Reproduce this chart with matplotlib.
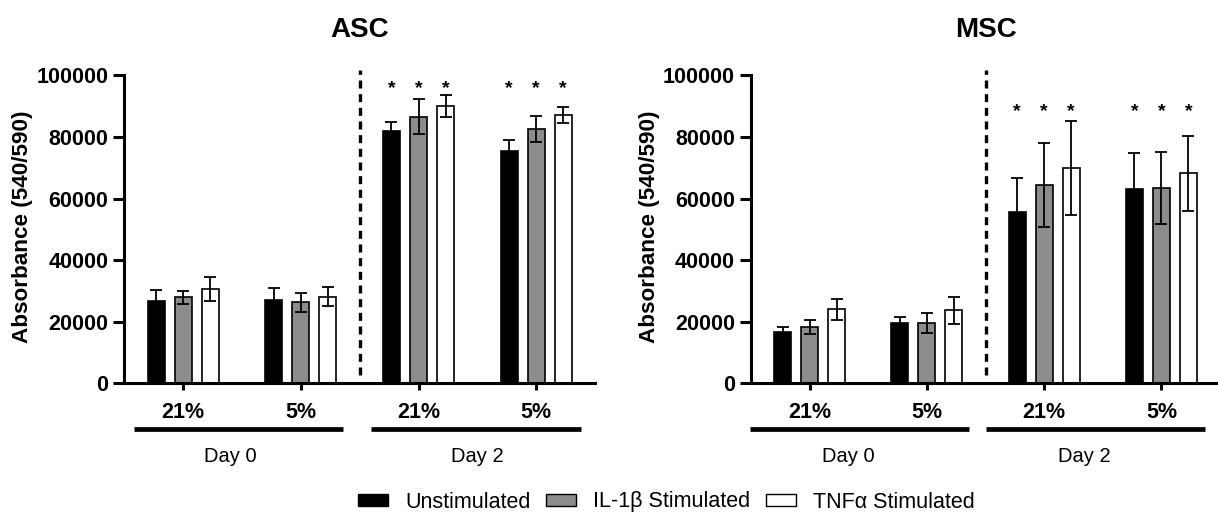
"""Two-panel grouped bar chart: absorbance for ASC and MSC at day 0 / day 2."""

import matplotlib
matplotlib.use("Agg")
import matplotlib.pyplot as plt
import matplotlib.transforms as mtransforms
from matplotlib.patches import Patch
import numpy as np

plt.rcParams["font.family"] = ["Liberation Sans", "DejaVu Sans"]

# groups along the x axis: Day 0 (21%, 5%), Day 2 (21%, 5%)
group_labels = ["21%", "5%", "21%", "5%"]
days = ["Day 0", "Day 2"]
treatments = ["Unstimulated", "IL-1\u03b2 Stimulated", "TNF\u03b1 Stimulated"]

# ASC means / errors per treatment, one value per group
asc_unstim = [26700, 27200, 81900, 75600]
asc_unstim_err = [3500, 3700, 3000, 3600]
asc_il1b = [28000, 26300, 86600, 82600]
asc_il1b_err = [2100, 3200, 5600, 4200]
asc_tnfa = [30800, 28200, 90000, 87200]
asc_tnfa_err = [3900, 3000, 3600, 2600]

# MSC
msc_unstim = [16800, 19500, 55800, 63300]
msc_unstim_err = [1400, 2000, 10900, 11600]
msc_il1b = [18400, 19700, 64500, 63600]
msc_il1b_err = [2300, 3200, 13700, 11700]
msc_tnfa = [24100, 23700, 70000, 68200]
msc_tnfa_err = [3400, 4400, 15200, 12300]

# groups flagged significant (*)
significant = [False, False, True, True]

colors = ["black", "#8c8c8c", "white"]
BAR_W = 0.145
OFFS = [-0.23, 0.0, 0.23]


def panel(ax, title, series, errs, star_y, day_spans, day_x):
	x = np.arange(len(group_labels))
	for vals, err, off, col in zip(series, errs, OFFS, colors):
		ax.bar(x + off, vals, BAR_W, yerr=err, color=col, edgecolor="black",
			linewidth=1.2, capsize=4,
			error_kw=dict(elinewidth=1.3, capthick=1.3, ecolor="black"))
		for xi, sig in zip(x, significant):
			if sig:
				ax.text(xi + off, star_y, "*", ha="center", va="baseline",
					fontsize=14, fontweight="bold")

	ax.plot([1.5, 1.5], [2800, 101800], color="black", lw=2.4,
		ls=(0, (2.4, 1.7)), clip_on=False)

	ax.set_xlim(-0.5, 3.5)
	ax.set_ylim(0, 100000)
	ax.set_yticks(np.arange(0, 100001, 20000))
	ax.set_xticks(x)
	ax.set_xticklabels(group_labels)
	for lab in ax.get_xticklabels() + ax.get_yticklabels():
		lab.set_fontweight("bold")
	ax.tick_params(axis="y", length=8, width=2.2, labelsize=15.5, pad=3.5)
	ax.tick_params(axis="x", length=5, width=2.2, labelsize=15.5, pad=8)
	for s in ["top", "right"]:
		ax.spines[s].set_visible(False)
	for s in ["left", "bottom"]:
		ax.spines[s].set_linewidth(2.2)

	ax.set_title(title, fontsize=20, fontweight="bold", pad=28)
	ax.set_ylabel("Absorbance (540/590)", fontsize=16.2, fontweight="bold")
	ax.yaxis.set_label_coords(-0.195, 0.51)

	trans = mtransforms.blended_transform_factory(ax.transData, ax.transAxes)
	for (x0, x1), dx, day in zip(day_spans, day_x, days):
		ax.plot([x0, x1], [-0.148, -0.148], color="black", lw=3.4,
			transform=trans, clip_on=False, solid_capstyle="butt")
		ax.text(dx, -0.238, day, transform=trans, ha="center", va="center",
			fontsize=14.5)


fig = plt.figure(figsize=(12.18, 5.12), dpi=100)
ax1 = fig.add_axes([0.1021, 0.251, 0.3864, 0.6016])
ax2 = fig.add_axes([0.6166, 0.251, 0.3851, 0.6016])

panel(ax1, "ASC", [asc_unstim, asc_il1b, asc_tnfa],
	[asc_unstim_err, asc_il1b_err, asc_tnfa_err], 94300,
	[(-0.42, 1.36), (1.6, 3.38)], [0.40, 2.50])
panel(ax2, "MSC", [msc_unstim, msc_il1b, msc_tnfa],
	[msc_unstim_err, msc_il1b_err, msc_tnfa_err], 86800,
	[(-0.51, 1.36), (1.5, 3.37)], [0.33, 2.34])

handles = [Patch(facecolor=c, edgecolor="black", linewidth=1) for c in colors]
fig.legend(handles, treatments, loc="center", ncol=3, frameon=False,
	bbox_to_anchor=(666.5 / 1218, 1 - 502 / 512), fontsize=15.5,
	handlelength=1.4, handleheight=0.45, handletextpad=0.8, columnspacing=0.7)

fig.savefig("out.png", dpi=100)
